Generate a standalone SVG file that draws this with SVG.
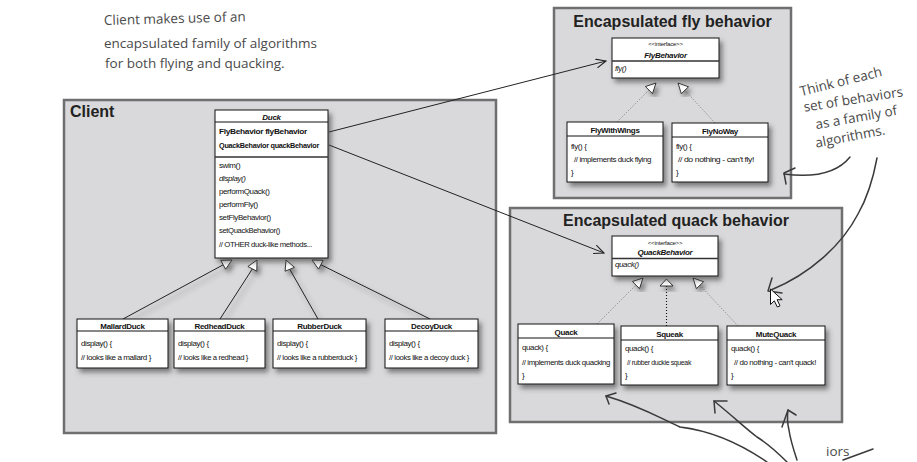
<svg xmlns="http://www.w3.org/2000/svg" width="917" height="462" viewBox="0 0 917 462">
  <defs>
    <style>
      .cont { fill: #d9d9db; stroke: #6f6f6f; stroke-width: 2.5; }
      .cls { fill: #ffffff; stroke: #111111; stroke-width: 1; }
      .sep { stroke: #111111; stroke-width: 1; }
      .sep2 { stroke: #333333; stroke-width: 1.6; }
      .t { font-family: "Liberation Sans", Arial, sans-serif; font-size: 8px; letter-spacing: -0.4px; fill: #111111; }
      .s { font-size: 6px; letter-spacing: -0.2px; }
      .b { font-weight: bold; letter-spacing: -0.3px; }
      .i { font-style: italic; }
      .h { font-family: "Liberation Sans", Arial, sans-serif; font-size: 16px; font-weight: bold; fill: #222222; }
      .hand { font-family: "Open Sans", "Liberation Sans", sans-serif; font-size: 13.5px; fill: #4a4a4a; }
      .conn { stroke: #222222; stroke-width: 1; fill: none; }
      .dot { stroke: #777777; stroke-width: 0.9; stroke-dasharray: 1 1.6; fill: none; }
      .dotb { stroke: #111111; stroke-width: 1.1; stroke-dasharray: 1 2; fill: none; }
      .tri { fill: #ffffff; stroke: #222222; stroke-width: 0.9; }
      .pen { stroke: #3a3a3a; stroke-width: 1.5; fill: none; stroke-linecap: round; stroke-linejoin: round; }
    </style>
    <filter id="sh" x="-20%" y="-20%" width="150%" height="150%">
      <feDropShadow dx="3" dy="4" stdDeviation="2.6" flood-color="#3c3c3c" flood-opacity="0.6"/>
    </filter>
    <marker id="open" viewBox="0 0 12 10" refX="11" refY="5" markerWidth="12" markerHeight="10" markerUnits="userSpaceOnUse" orient="auto">
      <path d="M1,0.5 L11,5 L1,9.5" fill="none" stroke="#222" stroke-width="1.1"/>
    </marker>
  </defs>

  <rect width="917" height="462" fill="#ffffff"/>

  <!-- containers -->
  <g id="client">
    <rect class="cont" x="64" y="100" width="432" height="333"/>
    <text class="h" x="70" y="117">Client</text>
  </g>
  <g id="fly-family">
    <rect class="cont" x="554" y="8" width="237" height="190"/>
    <text class="h" x="672.5" y="27" text-anchor="middle">Encapsulated fly behavior</text>
  </g>
  <g id="quack-family">
    <rect class="cont" x="510" y="208" width="332" height="214"/>
    <text class="h" x="676" y="226" text-anchor="middle">Encapsulated quack behavior</text>
  </g>

  <!-- connectors -->
  <g id="connectors">
    <!-- has-a associations -->
    <line class="conn" x1="329" y1="132" x2="606" y2="61" marker-end="url(#open)"/>
    <line class="conn" x1="329" y1="145" x2="604" y2="253" marker-end="url(#open)"/>

    <!-- Duck subclasses -->
    <g filter="url(#sh)">
      <line class="conn" x1="123" y1="319" x2="223.2" y2="264.8"/>
      <polygon class="tri" points="232,260 225.6,269.2 220.8,260.4"/>
      <line class="conn" x1="220" y1="319" x2="252.4" y2="268.9"/>
      <polygon class="tri" points="257,260 256.8,271.2 247.9,266.5"/>
      <line class="conn" x1="318" y1="319" x2="289.8" y2="269.3"/>
      <polygon class="tri" points="286,260 294.4,267.4 285.1,271.2"/>
      <line class="conn" x1="430" y1="319" x2="320.8" y2="264.7"/>
      <polygon class="tri" points="312,260 323.2,260.3 318.5,269.1"/>
    </g>

    <!-- FlyBehavior implementations -->
    <path class="dot" d="M617,122 L648.9,90.1"/>
    <path class="dot" d="M715,123 L684.9,90.3"/>
    <g filter="url(#sh)">
      <polygon class="tri" points="656,83 652.5,93.6 645.4,86.5"/>
      <polygon class="tri" points="678,83 688.5,86.8 681.3,93.7"/>
    </g>

    <!-- QuackBehavior implementations -->
    <path class="dot" d="M597,324 L635.9,285.1"/>
    <path class="dotb" d="M666.5,326 L666.5,286"/>
    <path class="dot" d="M738,326 L700,285.2"/>
    <g filter="url(#sh)">
      <polygon class="tri" points="643,278 639.5,288.6 632.4,281.5"/>
      <polygon class="tri" points="666.5,279 673,286 660,286"/>
      <polygon class="tri" points="693,278 703.6,281.7 696.4,288.7"/>
    </g>
  </g>

  <!-- Duck -->
  <g id="duck">
    <rect class="cls" x="215" y="110" width="113" height="148" filter="url(#sh)"/>
    <line class="sep" x1="215" y1="122" x2="328" y2="122"/>
    <line class="sep2" x1="215" y1="157" x2="328" y2="157"/>
    <text class="t b i" x="271.5" y="119.5" text-anchor="middle">Duck</text>
    <text class="t b" x="219" y="134" textLength="88" lengthAdjust="spacingAndGlyphs">FlyBehavior flyBehavior</text>
    <text class="t b" x="219" y="147.5" textLength="100" lengthAdjust="spacingAndGlyphs">QuackBehavior quackBehavior</text>
    <text class="t" x="219" y="168">swim()</text>
    <text class="t i" x="219" y="181">display()</text>
    <text class="t" x="219" y="194">performQuack()</text>
    <text class="t" x="219" y="207">performFly()</text>
    <text class="t" x="219" y="220">setFlyBehavior()</text>
    <text class="t" x="219" y="233" textLength="61" lengthAdjust="spacingAndGlyphs">setQuackBehavior()</text>
    <text class="t" x="219" y="247" textLength="93" lengthAdjust="spacingAndGlyphs">// OTHER duck-like methods...</text>
  </g>

  <g id="mallard-duck">
    <rect class="cls" x="77" y="319" width="91" height="49" filter="url(#sh)"/>
    <line class="sep" x1="77" y1="331" x2="168" y2="331"/>
    <text class="t b" x="122.5" y="328.5" text-anchor="middle">MallardDuck</text>
    <text class="t" x="81" y="345.5">display() {</text>
    <text class="t" x="81" y="359.5" textLength="70" lengthAdjust="spacingAndGlyphs">// looks like a mallard }</text>
  </g>
  <g id="redhead-duck">
    <rect class="cls" x="174" y="319" width="91" height="49" filter="url(#sh)"/>
    <line class="sep" x1="174" y1="331" x2="265" y2="331"/>
    <text class="t b" x="219.5" y="328.5" text-anchor="middle">RedheadDuck</text>
    <text class="t" x="178" y="345.5">display() {</text>
    <text class="t" x="178" y="359.5" textLength="70" lengthAdjust="spacingAndGlyphs">// looks like a redhead }</text>
  </g>
  <g id="rubber-duck">
    <rect class="cls" x="273" y="319" width="93" height="49" filter="url(#sh)"/>
    <line class="sep" x1="273" y1="331" x2="366" y2="331"/>
    <text class="t b" x="319.5" y="328.5" text-anchor="middle">RubberDuck</text>
    <text class="t" x="277" y="345.5">display() {</text>
    <text class="t" x="277" y="359.5" textLength="80" lengthAdjust="spacingAndGlyphs">// looks like a rubberduck }</text>
  </g>
  <g id="decoy-duck">
    <rect class="cls" x="385" y="319" width="93" height="49" filter="url(#sh)"/>
    <line class="sep" x1="385" y1="331" x2="478" y2="331"/>
    <text class="t b" x="431.5" y="328.5" text-anchor="middle">DecoyDuck</text>
    <text class="t" x="389" y="345.5">display() {</text>
    <text class="t" x="389" y="359.5" textLength="80" lengthAdjust="spacingAndGlyphs">// looks like a decoy duck }</text>
  </g>

  <!-- fly behaviors -->
  <g id="fly-behavior">
    <rect class="cls" x="612" y="38" width="107" height="40" filter="url(#sh)"/>
    <line class="sep2" x1="612" y1="61" x2="719" y2="61"/>
    <text class="t s" x="665.5" y="46" text-anchor="middle">&lt;&lt;interface&gt;&gt;</text>
    <text class="t b i" x="665.5" y="57.5" text-anchor="middle">FlyBehavior</text>
    <text class="t i" x="615" y="70.5">fly()</text>
  </g>
  <g id="fly-with-wings">
    <rect class="cls" x="567" y="122" width="96" height="60" filter="url(#sh)"/>
    <line class="sep" x1="567" y1="136" x2="663" y2="136"/>
    <text class="t b" x="615" y="132.5" text-anchor="middle">FlyWithWings</text>
    <text class="t" x="571" y="148.5">fly() {</text>
    <text class="t" x="574" y="161.5" textLength="77" lengthAdjust="spacingAndGlyphs">// implements duck flying</text>
    <text class="t" x="571" y="174.5">}</text>
  </g>
  <g id="fly-no-way">
    <rect class="cls" x="672" y="123" width="96" height="59" filter="url(#sh)"/>
    <line class="sep" x1="672" y1="137" x2="768" y2="137"/>
    <text class="t b" x="720" y="133.5" text-anchor="middle">FlyNoWay</text>
    <text class="t" x="676" y="148.5">fly() {</text>
    <text class="t" x="678" y="161.5" textLength="76" lengthAdjust="spacingAndGlyphs">// do nothing - can't fly!</text>
    <text class="t" x="676" y="174.5">}</text>
  </g>

  <!-- quack behaviors -->
  <g id="quack-behavior">
    <rect class="cls" x="612" y="236" width="106" height="40" filter="url(#sh)"/>
    <line class="sep2" x1="612" y1="258.5" x2="718" y2="258.5"/>
    <text class="t s" x="665" y="244.5" text-anchor="middle">&lt;&lt;interface&gt;&gt;</text>
    <text class="t b i" x="665" y="255" text-anchor="middle">QuackBehavior</text>
    <text class="t i" x="615" y="267">quack()</text>
  </g>
  <g id="quack">
    <rect class="cls" x="518" y="324" width="96" height="60" filter="url(#sh)"/>
    <line class="sep" x1="518" y1="338" x2="614" y2="338"/>
    <text class="t b" x="566" y="334.5" text-anchor="middle">Quack</text>
    <text class="t" x="522" y="350">quack) {</text>
    <text class="t" x="522" y="364.5" textLength="88" lengthAdjust="spacingAndGlyphs">// implements duck quacking</text>
    <text class="t" x="522" y="378">}</text>
  </g>
  <g id="squeak">
    <rect class="cls" x="621" y="326" width="97" height="59" filter="url(#sh)"/>
    <line class="sep" x1="621" y1="340" x2="718" y2="340"/>
    <text class="t b" x="669.5" y="336.5" text-anchor="middle">Squeak</text>
    <text class="t" x="625" y="350.5">quack() {</text>
    <text class="t" x="627" y="364.5" textLength="64" lengthAdjust="spacingAndGlyphs">// rubber duckie squeak</text>
    <text class="t" x="625" y="378">}</text>
  </g>
  <g id="mute-quack">
    <rect class="cls" x="727" y="326" width="98" height="59" filter="url(#sh)"/>
    <line class="sep" x1="727" y1="340" x2="825" y2="340"/>
    <text class="t b" x="776" y="336.5" text-anchor="middle">MuteQuack</text>
    <text class="t" x="731" y="350.5">quack() {</text>
    <text class="t" x="734" y="364.5" textLength="82" lengthAdjust="spacingAndGlyphs">// do nothing - can't quack!</text>
    <text class="t" x="731" y="378">}</text>
  </g>

  <!-- handwritten notes -->
  <g id="note-client">
    <text class="hand" x="104" y="25" transform="rotate(-1.5 104 25)">Client makes use of an</text>
    <text class="hand" x="104" y="48">encapsulated family of algorithms</text>
    <text class="hand" x="105" y="68">for both flying and quacking.</text>
  </g>
  <g id="note-family" text-anchor="middle">
    <text class="hand" x="842" y="86" transform="rotate(-14 842 86)">Think of each</text>
    <text class="hand" x="854" y="104" transform="rotate(-9 854 104)">set of behaviors</text>
    <text class="hand" x="857" y="122" transform="rotate(-10 857 122)">as a family of</text>
    <text class="hand" x="851" y="141" transform="rotate(-11 851 141)">algorithms.</text>
  </g>
  <g id="note-arrows">
    <path class="pen" d="M850,157 C838,172 815,178 784,174"/>
    <path class="pen" d="M795,168 L784,173 L786,184"/>
    <path class="pen" d="M877,158 C872,185 866,200 858,214 C842,245 810,274 771,290"/>
    <path class="pen" d="M772,278 L768,291 L782,293"/>
    <path class="pen" d="M767,462 C735,440 705,430 680,427 C660,418 640,406 606,396"/>
    <path class="pen" d="M616,393 L606,396 L609,404"/>
    <path class="pen" d="M787,462 C775,450 765,442 757,437 C745,428 735,418 714,401"/>
    <path class="pen" d="M727,401 L714,401 L715,413"/>
    <path class="pen" d="M797,460 C793,448 790,438 789,430 C787,422 787,417 788,410"/>
    <path class="pen" d="M782,427 L788,410 L796,415"/>
    <path class="pen" d="M873,449 L843,460"/>
    <text class="hand" x="826" y="456" font-size="11" fill="#777777">iors</text>
  </g>

  <!-- pointer -->
  <g id="pointer">
    <path d="M770.5,289 L770.5,304.5 L774.3,300.8 L777.3,307 L780,305.8 L777.1,299.7 L782.2,299.7 Z" fill="#ffffff" stroke="#111111" stroke-width="1" stroke-linejoin="round"/>
  </g>
</svg>
